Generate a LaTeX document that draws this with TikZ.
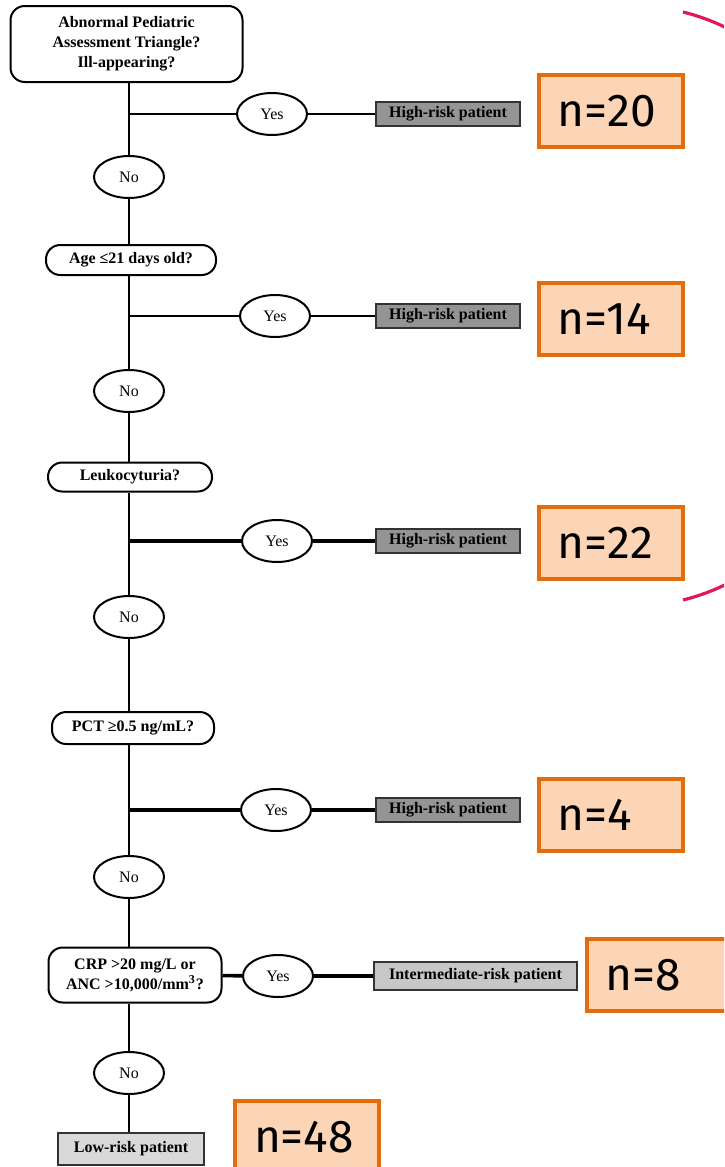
\documentclass[tikz,border=0pt]{standalone}
\usepackage{fontspec}
\setmainfont{Liberation Serif}
\newfontfamily\countfont{Fira Sans}
\usetikzlibrary{shapes.geometric}
\definecolor{tallyline}{HTML}{E46C0A}
\definecolor{tallyfill}{HTML}{FBD5B5}
\definecolor{bracketred}{HTML}{E2185B}
\tikzset{
    question/.style={
        draw,
        line width=1pt,
        rounded corners=2.5mm,
        fill=white,
        align=center,
        inner sep=0pt,
        font=\bfseries\fontsize{8}{10}\selectfont
    },
    answer/.style={
        draw,
        ellipse,
        line width=1pt,
        fill=white,
        minimum width=35pt,
        minimum height=21pt,
        inner sep=0pt,
        font=\fontsize{8}{10}\selectfont
    },
    outcome/.style={
        draw=black!80,
        line width=0.9pt,
        fill=#1,
        inner sep=0pt,
        minimum height=12pt,
        font=\bfseries\fontsize{8}{10}\selectfont
    },
    tally/.style={
        draw=tallyline,
        line width=2pt,
        fill=tallyfill,
        text width=53pt,
        align=left,
        inner xsep=9.5pt,
        minimum height=36pt,
        inner ysep=0pt,
        font=\countfont\fontsize{23}{25}\selectfont
    },
    link/.style={line width=1pt},
    heavy/.style={line width=1.8pt}
}
\newcommand{\highrisk}[4] {
    \coordinate (#1) at (129, #2);
    \node[answer] (#1yes) at ({#3}, #2) {Yes};
    \node[outcome=black!42,minimum width=72pt] (#1out) at (448, #2) {High-risk patient};
}

\begin{document}
\begin{tikzpicture}[x=0.5pt,y=-0.5pt]
    \useasboundingbox (0,0) rectangle (724,1167);
    \clip (0,0) rectangle (724,1167);

    % questions
    \node[question,minimum width=116pt,minimum height=38pt] (qpat) at (126.5,44)
        {Abnormal Pediatric\\Assessment Triangle?\\Ill-appearing?};
    \node[question,minimum width=85pt,minimum height=15pt] (qage) at (131,260) {Age ≤21 days old?};
    \node[question,minimum width=82pt,minimum height=14.5pt] (qleu) at (130,477) {Leukocyturia?};
    \node[question,minimum width=81pt,minimum height=16pt] (qpct) at (133,728) {PCT ≥0.5 ng/mL?};
    \node[question,minimum width=86.5pt,minimum height=27.5pt] (qcrp) at (135,975)
        {CRP >20 mg/L or\\ANC >10,000/mm\textsuperscript{3}?};

    % no answers
    \node[answer] (no1) at (129,177) {No};
    \node[answer] (no2) at (129,391) {No};
    \node[answer] (no3) at (129,617) {No};
    \node[answer] (no4) at (129,877) {No};
    \node[answer] (no5) at (129,1073) {No};

    % yes answers
    \highrisk{br1}{114}{272}{}
    \highrisk{br2}{316}{275}{}
    \highrisk{br3}{541}{277}{}
    \highrisk{br4}{810}{276}{}
    \node[answer] (yes5) at (278,976) {Yes};
    \node[outcome=black!22,minimum width=101.5pt,minimum height=14pt] (inter) at (475.5,976) {Intermediate-risk patient};
    \node[outcome=black!15,minimum width=73pt,minimum height=16pt] (low) at (131,1149) {Low-risk patient};

    % spine
    \draw[link] (qpat.south -| no1) -- (no1);
    \draw[link] (no1) -- (no1 |- qage.north);
    \draw[link] (qage.south -| no2) -- (no2);
    \draw[link] (no2) -- (no2 |- qleu.north);
    \draw[link] (qleu.south -| no3) -- (no3);
    \draw[link] (no3) -- (no3 |- qpct.north);
    \draw[link] (qpct.south -| no4) -- (no4);
    \draw[link] (no4) -- (no4 |- qcrp.north);
    \draw[link] (qcrp.south -| no5) -- (no5);
    \draw[link] (no5) -- (no5 |- low.north);

    % branches
    \draw[link] (br1) -- (br1yes) -- (br1out);
    \draw[link] (br2) -- (br2yes) -- (br2out);
    \draw[heavy] (br3) -- (br3yes) -- (br3out);
    \draw[heavy] (br4) -- (br4yes) -- (br4out);
    \draw[heavy] (qcrp) -- (yes5) -- (inter);

    % counts
    \node[tally] (n20) at (610.5,111) {n=20};
    \node[tally] (n14) at (610.5,319) {n=14};
    \node[tally] (n22) at (610.5,543) {n=22};
    \node[tally] (n4)  at (610.5,815) {n=4};
    \node[tally] (n8)  at (658.5,975) {n=8};
    \node[tally] (n48) at (307,1137) {n=48};

    \draw[bracketred,line width=1.6pt] (683,12) .. controls (933,74) and (933,538) .. (683,600);
\end{tikzpicture}
\end{document}
